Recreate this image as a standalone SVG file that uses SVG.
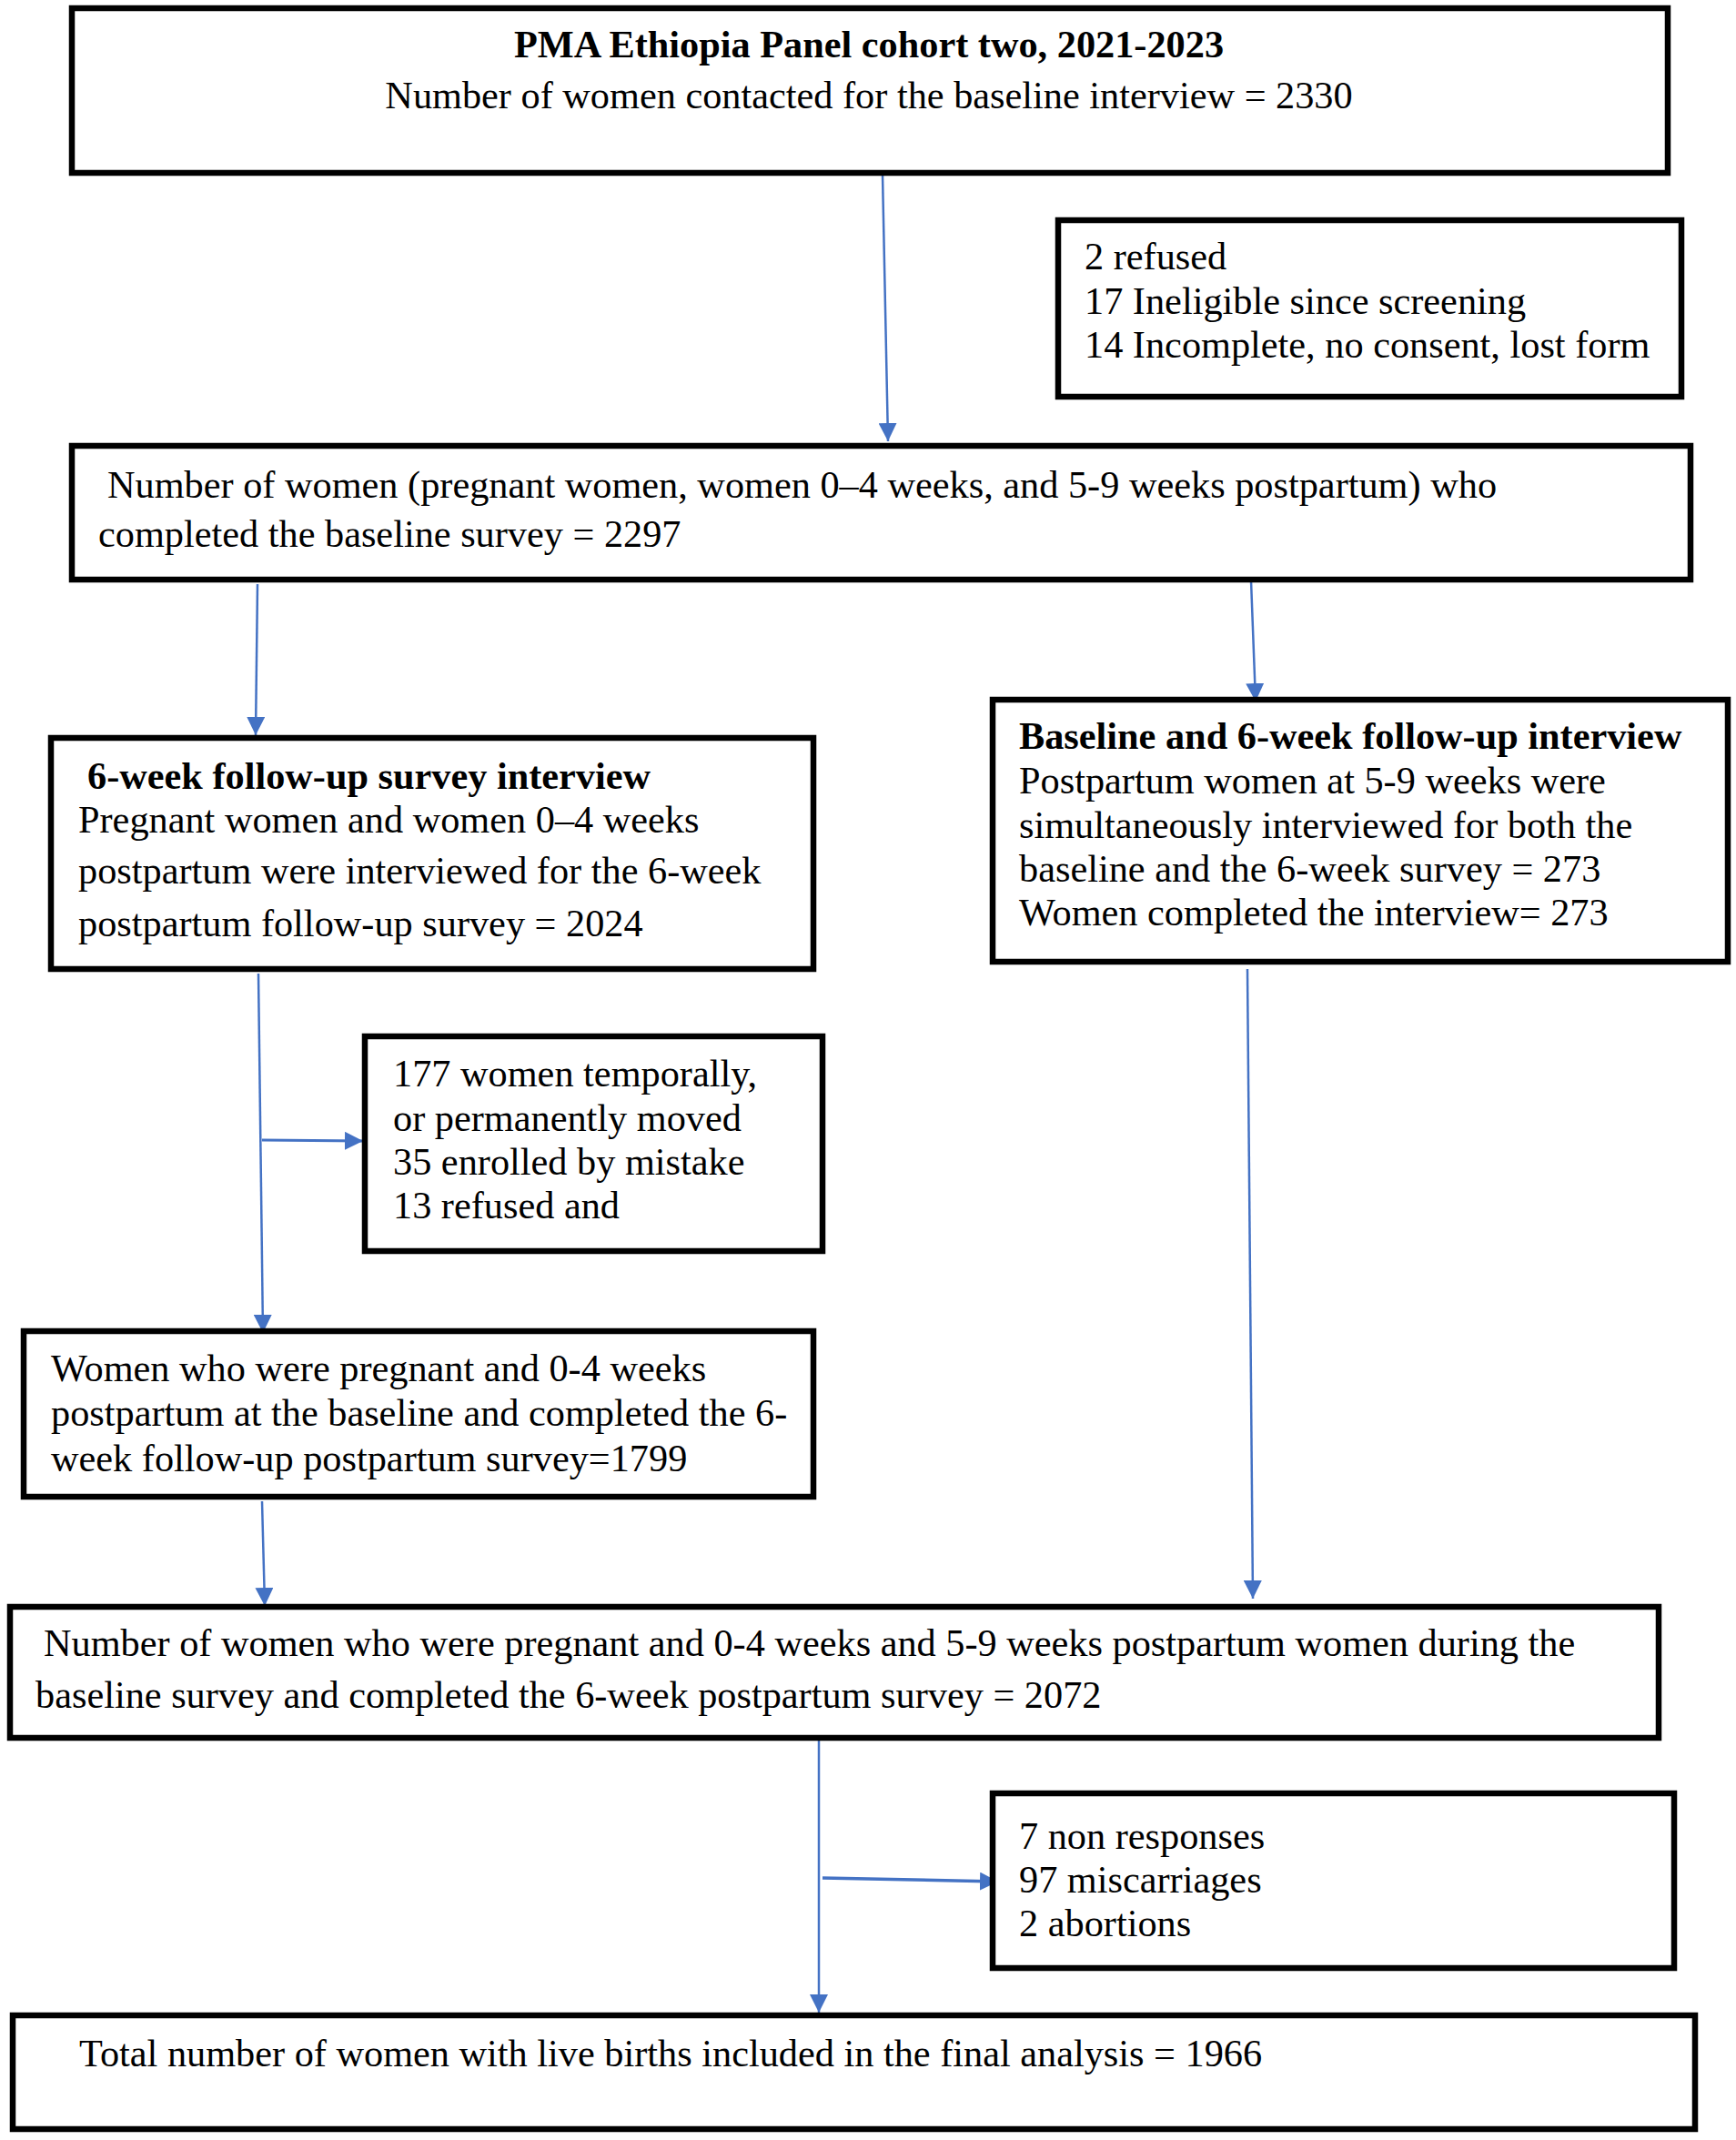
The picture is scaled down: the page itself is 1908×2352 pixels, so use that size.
<svg xmlns="http://www.w3.org/2000/svg" width="1908" height="2352" viewBox="0 0 1908 2352">
<defs>
<style>
.box{fill:#fff;stroke:#000;stroke-width:6.5}
.t{font-family:"Liberation Serif","Times New Roman",serif;font-size:42.3px;fill:#000}
.b{font-weight:bold}
.c{stroke:#4472C4;stroke-width:2.5;fill:none}
</style>
<marker id="ah" viewBox="0 0 10 10" refX="10" refY="5" markerWidth="20" markerHeight="20" markerUnits="userSpaceOnUse" orient="auto">
<path d="M0,0 L10,5 L0,10 Z" fill="#4472C4"/>
</marker>
</defs>
<rect width="1908" height="2352" fill="#fff"/>
<g id="connectors">
<line class="c" x1="970" y1="192" x2="976" y2="485" marker-end="url(#ah)"/>
<line class="c" x1="283" y1="642" x2="281" y2="808" marker-end="url(#ah)"/>
<line class="c" x1="1375" y1="638" x2="1380" y2="771" marker-end="url(#ah)"/>
<line class="c" x1="284" y1="1070" x2="289" y2="1465" marker-end="url(#ah)"/>
<line class="c" x1="288" y1="1253" x2="399" y2="1254" marker-end="url(#ah)" style="stroke-width:3"/>
<line class="c" x1="288" y1="1650" x2="291" y2="1765" marker-end="url(#ah)"/>
<line class="c" x1="1371" y1="1065" x2="1377" y2="1757" marker-end="url(#ah)"/>
<line class="c" x1="900" y1="1912" x2="900" y2="2212" marker-end="url(#ah)"/>
<line class="c" x1="904" y1="2064" x2="1097" y2="2068" marker-end="url(#ah)" style="stroke-width:3.5"/>
</g>
<g id="n1">
<rect class="box" x="79" y="9" width="1754" height="181"/>
<text class="t b" x="955" y="63" text-anchor="middle">PMA Ethiopia Panel cohort two, 2021-2023</text>
<text class="t" x="955" y="119" text-anchor="middle">Number of women contacted for the baseline interview = 2330</text>
</g>
<g id="n2">
<rect class="box" x="1163" y="242" width="685" height="194"/>
<text class="t" x="1192" y="296">2 refused</text>
<text class="t" x="1192" y="345">17 Ineligible since screening</text>
<text class="t" x="1192" y="393">14 Incomplete, no consent, lost form</text>
</g>
<g id="n3">
<rect class="box" x="79" y="490" width="1779" height="147"/>
<text class="t" x="118" y="547">Number of women (pregnant women, women 0–4 weeks, and 5-9 weeks postpartum) who</text>
<text class="t" x="108" y="601">completed the baseline survey = 2297</text>
</g>
<g id="n4">
<rect class="box" x="56" y="811" width="838" height="254"/>
<text class="t b" x="96" y="867">6-week follow-up survey interview</text>
<text class="t" x="86" y="915">Pregnant women and women 0–4 weeks</text>
<text class="t" x="86" y="971">postpartum were interviewed for the 6-week</text>
<text class="t" x="86" y="1029">postpartum follow-up survey = 2024</text>
</g>
<g id="n5">
<rect class="box" x="1091" y="769" width="808" height="288"/>
<text class="t b" x="1120" y="823">Baseline and 6-week follow-up interview</text>
<text class="t" x="1120" y="872">Postpartum women at 5-9 weeks were</text>
<text class="t" x="1120" y="921">simultaneously interviewed for both the</text>
<text class="t" x="1120" y="969">baseline and the 6-week survey = 273</text>
<text class="t" x="1120" y="1017">Women completed the interview= 273</text>
</g>
<g id="n6">
<rect class="box" x="401" y="1139" width="503" height="236"/>
<text class="t" x="432" y="1194">177 women temporally,</text>
<text class="t" x="432" y="1243">or permanently moved</text>
<text class="t" x="432" y="1291">35 enrolled by mistake</text>
<text class="t" x="432" y="1339">13 refused and</text>
</g>
<g id="n7">
<rect class="box" x="26" y="1463" width="868" height="182"/>
<text class="t" x="56" y="1518">Women who were pregnant and 0-4 weeks</text>
<text class="t" x="56" y="1567">postpartum at the baseline and completed the 6-</text>
<text class="t" x="56" y="1617">week follow-up postpartum survey=1799</text>
</g>
<g id="n8">
<rect class="box" x="11" y="1766" width="1812" height="144"/>
<text class="t" x="48" y="1820">Number of women who were pregnant and 0-4 weeks and 5-9 weeks postpartum women during the</text>
<text class="t" x="39" y="1877">baseline survey and completed the 6-week postpartum survey = 2072</text>
</g>
<g id="n9">
<rect class="box" x="1091" y="1971" width="749" height="192"/>
<text class="t" x="1120" y="2032">7 non responses</text>
<text class="t" x="1120" y="2080">97 miscarriages</text>
<text class="t" x="1120" y="2128">2 abortions</text>
</g>
<g id="n10">
<rect class="box" x="14" y="2215" width="1849" height="125"/>
<text class="t" x="87" y="2271">Total number of women with live births included in the final analysis = 1966</text>
</g>
</svg>
